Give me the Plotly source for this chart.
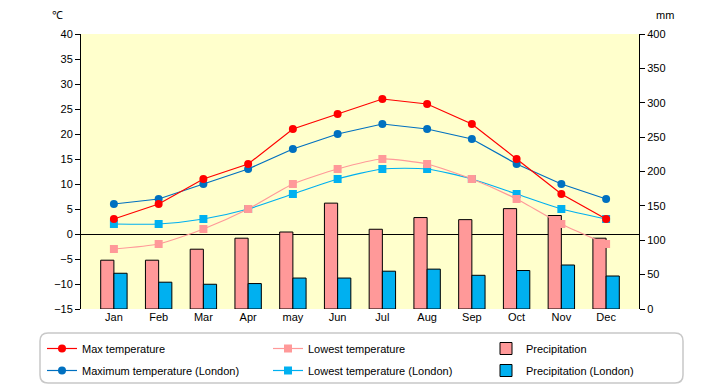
import plotly.graph_objects as go

months = ["Jan", "Feb", "Mar", "Apr", "may", "Jun", "Jul", "Aug", "Sep", "Oct", "Nov", "Dec"]
max_temp = [3, 6, 11, 14, 21, 24, 27, 26, 22, 15, 8, 3]
low_temp = [-3, -2, 1, 5, 10, 13, 15, 14, 11, 7, 2, -2]
precip = [71, 71, 87, 103, 112, 154, 116, 133, 130, 146, 136, 103]
london_max = [6, 7, 10, 13, 17, 20, 22, 21, 19, 14, 10, 7]
london_low = [2, 2, 3, 5, 8, 11, 13, 13, 11, 8, 5, 3]
london_precip = [52, 39, 36, 37, 45, 45, 55, 58, 49, 56, 64, 48]

FONT = "Liberation Sans"

W, H = 720, 385
L, R, T, B = 81, 81, 34, 76
pw, ph = W - L - R, H - T - B


def px(x):
    return (x - L) / pw


def py(y):
    return (H - B - y) / ph


fig = go.Figure()
# bars on primary axis (mm, right side) -> drawn beneath the temperature overlay
fig.add_trace(go.Bar(x=months, y=precip, name="Precipitation", yaxis="y", legend="legend3",
                     legendgroup="p1", marker=dict(color="#FF9999", line=dict(color="black", width=1))))
fig.add_trace(go.Bar(x=months, y=london_precip, name="Precipitation (London)", yaxis="y", legend="legend3",
                     legendgroup="p2", marker=dict(color="#00B0F0", line=dict(color="black", width=1))))
fig.add_trace(go.Scatter(x=months, y=london_max, name="Maximum temperature (London)", mode="lines+markers",
                         yaxis="y2", legend="legend", legendgroup="b", legendrank=2,
                         line=dict(color="#0070C0", width=1.2), marker=dict(color="#0070C0", size=8, symbol="circle")))
fig.add_trace(go.Scatter(x=months, y=london_low, name="Lowest temperature (London)", mode="lines+markers",
                         yaxis="y2", legend="legend2", legendgroup="d", legendrank=2,
                         line=dict(color="#00B0F0", width=1.2, shape="spline", smoothing=0.6),
                         marker=dict(color="#00B0F0", size=8, symbol="square")))
fig.add_trace(go.Scatter(x=months, y=low_temp, name="Lowest temperature", mode="lines+markers",
                         yaxis="y2", legend="legend2", legendgroup="c", legendrank=1,
                         line=dict(color="#FF9999", width=1.2, shape="spline", smoothing=0.6),
                         marker=dict(color="#FF9999", size=8, symbol="square")))
fig.add_trace(go.Scatter(x=months, y=max_temp, name="Max temperature", mode="lines+markers",
                         yaxis="y2", legend="legend", legendgroup="a", legendrank=1,
                         line=dict(color="#FF0000", width=1.2), marker=dict(color="#FF0000", size=8, symbol="circle")))

x0, x1, y0, y1 = px(40), px(683), py(383), py(333)
rx, ry = 8 / pw, 8 / ph
path = (f"M {x0+rx},{y1} L {x1-rx},{y1} Q {x1},{y1} {x1},{y1-ry} L {x1},{y0+ry} "
        f"Q {x1},{y0} {x1-rx},{y0} L {x0+rx},{y0} Q {x0},{y0} {x0},{y0+ry} L {x0},{y1-ry} "
        f"Q {x0},{y1} {x0+rx},{y1} Z")

leg_common = dict(orientation="v", yanchor="top", xanchor="left", traceorder="grouped",
                  tracegroupgap=3, font=dict(family=FONT, size=11), bgcolor="rgba(0,0,0,0)",
                  borderwidth=0, y=py(334))

fig.update_layout(
    width=W, height=H,
    margin=dict(l=L, r=R, t=T, b=B, autoexpand=False),
    paper_bgcolor="white", plot_bgcolor="#FFFFCC",
    font=dict(family=FONT, size=11, color="black"),
    barmode="group", bargap=0.41, bargroupgap=0,
    showlegend=True,
    legend=dict(x=px(42), **leg_common),
    legend2=dict(x=px(268), **leg_common),
    legend3=dict(x=px(486), **leg_common),
    xaxis=dict(categoryorder="array", categoryarray=months, showline=False, ticks="",
               showgrid=False, tickfont=dict(size=11)),
    yaxis=dict(range=[0, 400], dtick=50, side="right", showgrid=False,
               showline=True, linecolor="black", linewidth=1, ticks="outside", ticklen=5,
               tickcolor="black", zeroline=False),
    yaxis2=dict(range=[-15, 40], dtick=5, side="left", overlaying="y", showgrid=False,
                showline=True, linecolor="black", linewidth=1, ticks="outside", ticklen=5,
                tickcolor="black", zeroline=True, zerolinecolor="black", zerolinewidth=1.3),
    shapes=[dict(type="path", path=path, xref="paper", yref="paper",
                 line=dict(color="#C8C8C8", width=1.5), fillcolor="rgba(0,0,0,0)", layer="below")],
    annotations=[
        dict(text="℃", x=px(57), y=py(15), xref="paper", yref="paper", showarrow=False,
             xanchor="center", yanchor="middle", font=dict(size=11)),
        dict(text="mm", x=px(665), y=py(15), xref="paper", yref="paper", showarrow=False,
             xanchor="center", yanchor="middle", font=dict(size=11)),
    ],
)

fig.write_html("out.html", config={"displayModeBar": False},
               post_script="document.body.style.margin='0';document.body.style.padding='0';")
